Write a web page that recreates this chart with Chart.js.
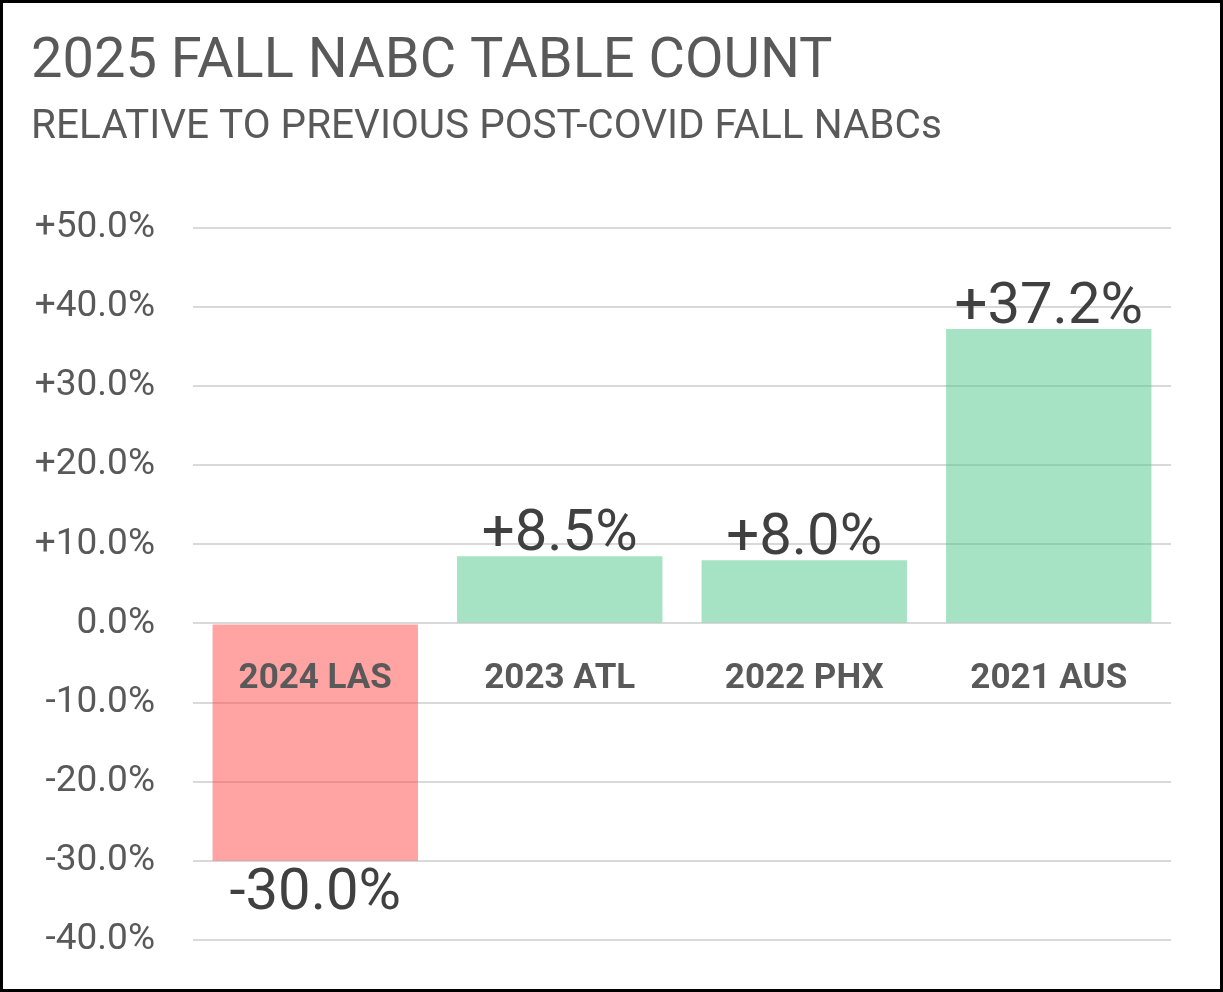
<!DOCTYPE html>
<html>
<head>
<meta charset="utf-8">
<script src="https://cdn.jsdelivr.net/npm/chart.js@4"></script>
<style>
  html, body { margin: 0; padding: 0; background: #fff; }
  #wrap { width: 1223px; height: 992px; position: relative; }
</style>
</head>
<body>
<div id="wrap"><canvas id="chartTables"></canvas></div>
<script>
// === DATA ===
const categories = ["2024 LAS", "2023 ATL", "2022 PHX", "2021 AUS"];
const changePct = [-30.0, 8.5, 8.0, 37.2];
const barColors = ["rgba(255, 71, 71, 0.5)", "rgba(76, 200, 137, 0.5)", "rgba(76, 200, 137, 0.5)", "rgba(76, 200, 137, 0.5)"];
const yTicks = [50, 40, 30, 20, 10, 0, -10, -20, -30, -40];

const fontFam = "Roboto, 'Liberation Sans', sans-serif";

function fmtPct(v) {
  const s = Math.abs(v).toFixed(1) + "%";
  if (v > 0) return "+" + s;
  if (v < 0) return "-" + s;
  return s;
}

// labels on the bars + category names under the zero line
const labelPlugin = {
  id: "labelPlugin",
  afterDatasetsDraw(chart) {
    const c = chart.ctx;
    const meta = chart.getDatasetMeta(0);
    const y = chart.scales.y;
    const zeroY = y.getPixelForValue(0);
    c.save();
    c.textAlign = "center";
    meta.data.forEach((bar, i) => {
      const v = changePct[i];
      c.fillStyle = "#404040";
      c.font = "58px " + fontFam;
      c.textBaseline = "alphabetic";
      if (v >= 0) {
        c.fillText(fmtPct(v), bar.x, bar.y - 6);
      } else {
        c.fillText(fmtPct(v), bar.x, bar.y + 48);
      }
      c.fillStyle = "#595959";
      c.font = "bold 35px " + fontFam;
      c.fillText(categories[i], bar.x, zeroY + 65);
    });
    c.restore();
  },
  afterDraw(chart) {
    const c = chart.ctx;
    c.save();
    c.strokeStyle = "#000";
    c.lineWidth = 4;
    c.strokeRect(1, 1, chart.width - 2, chart.height - 2);
    c.restore();
  }
};

const ctx = document.getElementById("chartTables").getContext("2d");
const chartTables = new Chart(ctx, {
  type: "bar",
  data: {
    labels: categories,
    datasets: [{
      data: changePct,
      backgroundColor: barColors,
      borderWidth: 0,
      categoryPercentage: 1.0,
      barPercentage: 0.84
    }]
  },
  options: {
    responsive: true,
    maintainAspectRatio: false,
    animation: false,
    layout: { padding: { left: 31, right: 52, top: 26, bottom: 52 } },
    plugins: {
      legend: { display: false },
      tooltip: { enabled: false },
      title: {
        display: true,
        text: "2025 FALL NABC TABLE COUNT",
        align: "start",
        color: "#595959",
        font: { family: fontFam, size: 56, weight: "normal" },
        padding: { top: 3, bottom: 7 }
      },
      subtitle: {
        display: true,
        text: "RELATIVE TO PREVIOUS POST-COVID FALL NABCs",
        align: "start",
        color: "#595959",
        font: { family: fontFam, size: 40.5, weight: "normal" },
        padding: { top: 0, bottom: 76 }
      }
    },
    scales: {
      x: {
        display: false,
        grid: { display: false }
      },
      y: {
        min: -40,
        max: 50,
        afterBuildTicks(axis) {
          axis.ticks = yTicks.map(v => ({ value: v }));
        },
        afterFit(axis) {
          axis.width = 162;
          axis.paddingTop = 22;
          axis.paddingBottom = 22;
        },
        border: { display: false },
        grid: { color: "#d9d9d9", lineWidth: 2, drawTicks: false },
        ticks: {
          color: "#595959",
          padding: 38,
          font: { family: fontFam, size: 37 },
          callback: (v) => fmtPct(v)
        }
      }
    }
  },
  plugins: [labelPlugin]
});
</script>
</body>
</html>
